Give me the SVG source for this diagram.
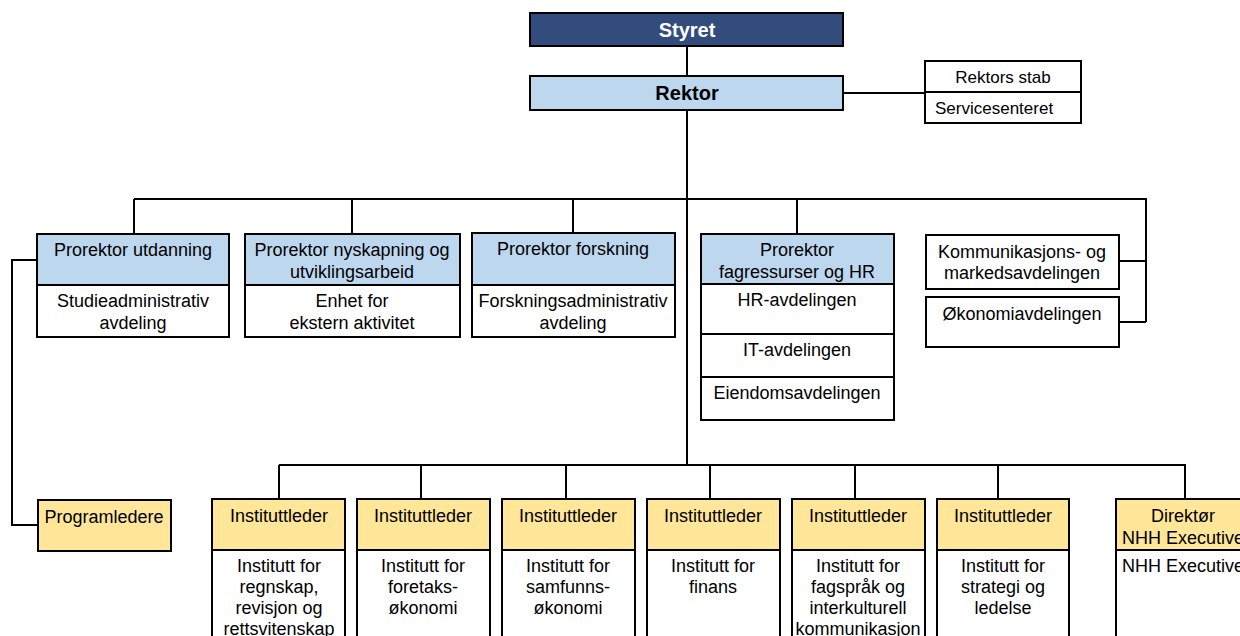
<svg xmlns="http://www.w3.org/2000/svg" width="1240" height="636" viewBox="0 0 1240 636">
<style>
text{font-family:"Liberation Sans",Arial,sans-serif;font-size:18px;fill:#000;text-anchor:middle}
.b{font-weight:bold;font-size:20px}
.w{fill:#fff}
.s{font-size:17px}
rect{stroke:#000;stroke-width:2}
.dk{fill:#324C7D}
.lb{fill:#BDD7EE}
.yl{fill:#FFE699}
.wh{fill:#fff}
.c{fill:none;stroke:#000;stroke-width:2}
</style>
<rect x="0" y="0" width="1240" height="636" style="fill:#fff;stroke:none"/>
<g id="connectors">
<path class="c" d="M687 46V76M844 93H925M687 110V465M134 199H1146V322M134 199V233M352 199V233M573 199V233M797 199V234M1118 261H1146M1118 322H1146"/>
<path class="c" d="M37 260H12V525H38"/>
<path class="c" d="M279 465H1185V499M279 465V499M421 465V499M566 465V499M710 465V499M855 465V499M998 465V499"/>
</g>
<g id="styret"><rect class="dk" x="530" y="13" width="313" height="33"/><text class="b w" x="687" y="37">Styret</text></g>
<g id="rektor"><rect class="lb" x="530" y="76" width="313" height="34"/><text class="b" x="687" y="100">Rektor</text></g>
<g id="stab"><rect class="wh" x="925" y="61" width="156" height="62"/><path class="c" d="M925 92H1081"/><text class="s" x="1003" y="83">Rektors stab</text><text class="s" x="935" y="114" style="text-anchor:start">Servicesenteret</text></g>
<g id="pro-utdanning"><rect class="lb" x="37" y="234" width="192" height="51"/><rect class="wh" x="37" y="285" width="192" height="52"/><text x="133" y="256">Prorektor utdanning</text><text x="133" y="307">Studieadministrativ</text><text x="133" y="329">avdeling</text></g>
<g id="pro-nyskapning"><rect class="lb" x="245" y="234" width="215" height="51"/><rect class="wh" x="245" y="285" width="215" height="52"/><text x="352" y="256">Prorektor nyskapning og</text><text x="352" y="278">utviklingsarbeid</text><text x="352" y="307">Enhet for</text><text x="352" y="329">ekstern aktivitet</text></g>
<g id="pro-forskning"><rect class="lb" x="472" y="233" width="203" height="52"/><rect class="wh" x="472" y="285" width="203" height="52"/><text x="573" y="255">Prorektor forskning</text><text x="573" y="307">Forskningsadministrativ</text><text x="573" y="329">avdeling</text></g>
<g id="pro-hr"><rect class="lb" x="701" y="234" width="193" height="50"/><rect class="wh" x="701" y="284" width="193" height="50"/><rect class="wh" x="701" y="334" width="193" height="43"/><rect class="wh" x="701" y="377" width="193" height="43"/><text x="797" y="256">Prorektor</text><text x="797" y="278">fagressurser og HR</text><text x="797" y="306">HR-avdelingen</text><text x="797" y="356">IT-avdelingen</text><text x="797" y="399">Eiendomsavdelingen</text></g>
<g id="kommunikasjon"><rect class="wh" x="926" y="235" width="193" height="54"/><text x="1022" y="258">Kommunikasjons- og</text><text x="1022" y="279">markedsavdelingen</text></g>
<g id="okonomi"><rect class="wh" x="926" y="297" width="193" height="50"/><text x="1022" y="320">Økonomiavdelingen</text></g>
<g id="programledere"><rect class="yl" x="38" y="500" width="133" height="51"/><text x="104" y="523">Programledere</text></g>
<g id="inst1"><rect class="yl" x="212" y="499" width="133" height="51"/><rect class="wh" x="212" y="550" width="133" height="110"/><text x="279" y="522">Instituttleder</text><text x="279" y="572">Institutt for</text><text x="279" y="593">regnskap,</text><text x="279" y="614">revisjon og</text><text x="279" y="635">rettsvitenskap</text></g>
<g id="inst2"><rect class="yl" x="357" y="499" width="133" height="51"/><rect class="wh" x="357" y="550" width="133" height="110"/><text x="423" y="522">Instituttleder</text><text x="423" y="572">Institutt for</text><text x="423" y="593">foretaks-</text><text x="423" y="614">økonomi</text></g>
<g id="inst3"><rect class="yl" x="502" y="499" width="133" height="51"/><rect class="wh" x="502" y="550" width="133" height="110"/><text x="568" y="522">Instituttleder</text><text x="568" y="572">Institutt for</text><text x="568" y="593">samfunns-</text><text x="568" y="614">økonomi</text></g>
<g id="inst4"><rect class="yl" x="647" y="499" width="133" height="51"/><rect class="wh" x="647" y="550" width="133" height="110"/><text x="713" y="522">Instituttleder</text><text x="713" y="572">Institutt for</text><text x="713" y="593">finans</text></g>
<g id="inst5"><rect class="yl" x="792" y="499" width="133" height="51"/><rect class="wh" x="792" y="550" width="133" height="110"/><text x="858" y="522">Instituttleder</text><text x="858" y="572">Institutt for</text><text x="858" y="593">fagspråk og</text><text x="858" y="614">interkulturell</text><text x="858" y="635">kommunikasjon</text></g>
<g id="inst6"><rect class="yl" x="937" y="499" width="132" height="51"/><rect class="wh" x="937" y="550" width="132" height="110"/><text x="1003" y="522">Instituttleder</text><text x="1003" y="572">Institutt for</text><text x="1003" y="593">strategi og</text><text x="1003" y="614">ledelse</text></g>
<g id="nhh-exec"><rect class="yl" x="1116" y="499" width="134" height="51"/><rect class="wh" x="1116" y="550" width="134" height="110"/><text x="1183" y="522">Direktør</text><text x="1183" y="544">NHH Executive</text><text x="1183" y="572">NHH Executive</text></g>
</svg>
